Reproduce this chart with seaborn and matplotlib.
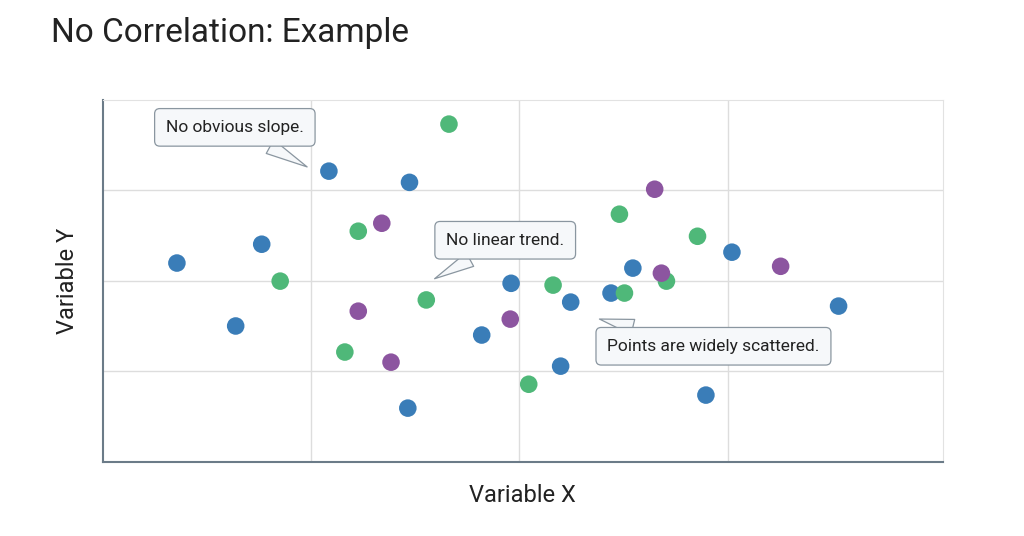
import matplotlib
matplotlib.use("Agg")
import matplotlib.pyplot as plt
import seaborn as sns
import pandas as pd

blue_x = [0.88, 1.58, 1.89, 2.69, 3.65, 3.63, 4.51, 4.86, 5.45, 5.57, 6.05, 6.31, 7.18, 7.49, 8.76]
blue_y = [5.50, 3.76, 6.02, 8.04, 7.73, 1.49, 3.51, 4.94, 2.65, 4.42, 4.67, 5.36, 1.85, 5.80, 4.31]
green_x = [4.12, 3.04, 2.11, 3.85, 2.88, 5.07, 5.36, 6.15, 6.21, 6.71, 7.08]
green_y = [9.34, 6.38, 5.00, 4.48, 3.04, 2.15, 4.89, 6.85, 4.67, 5.00, 6.24]
purple_x = [3.32, 3.04, 3.43, 4.85, 6.57, 6.65, 8.07]
purple_y = [6.60, 4.17, 2.76, 3.95, 7.54, 5.22, 5.41]

df = pd.DataFrame({
    "x": blue_x + green_x + purple_x,
    "y": blue_y + green_y + purple_y,
    "group": ["blue"] * len(blue_x) + ["green"] * len(green_x) + ["purple"] * len(purple_x),
})
palette = {"blue": "#3a7db8", "green": "#4fb879", "purple": "#8c55a0"}

sns.set_style("white")
plt.rcParams["font.family"] = ["Roboto", "DejaVu Sans"]

fig = plt.figure(figsize=(10.24, 5.36), dpi=100)
ax = fig.add_axes([0.1006, 0.138, 0.820, 0.675])
sns.scatterplot(data=df, x="x", y="y", hue="group", palette=palette, s=160,
                edgecolor="none", legend=False, ax=ax, zorder=3)

ax.set_xlim(0, 10)
ax.set_ylim(0, 10)
ax.set_xticks([2.48, 4.96, 7.44])
ax.set_yticks([2.51, 5.0, 7.51])
ax.set_xticklabels([])
ax.set_yticklabels([])
ax.tick_params(length=0)
ax.grid(True, color="#dddddd", linewidth=1)
for s in ["top", "right"]:
    ax.spines[s].set_color("#e2e2e2")
for s in ["left", "bottom"]:
    ax.spines[s].set_color("#6b7b88")
    ax.spines[s].set_linewidth(1.5)

ax.set_xlabel("Variable X", fontsize=17, color="#222222", labelpad=12)
ax.set_ylabel("Variable Y", fontsize=17, color="#222222", labelpad=14)
fig.text(0.05, 0.938, "No Correlation: Example", fontsize=24, color="#222222", va="center")

notes = [
    ("No obvious slope.", (1.57, 9.25), (2.46, 8.12)),
    ("No linear trend.", (4.79, 6.13), (3.92, 5.03)),
    ("Points are widely scattered.", (7.27, 3.20), (5.88, 3.97)),
]
for text, pos, tip in notes:
    ax.annotate(text, xy=tip, xytext=pos, ha="center", va="center", fontsize=12.5,
                color="#222222", zorder=5,
                bbox=dict(boxstyle="round,pad=0.65,rounding_size=0.3", fc="#f6f8fa", ec="#8a96a0", lw=0.9),
                arrowprops=dict(arrowstyle="wedge,tail_width=0.9,shrink_factor=0.5",
                                fc="#f6f8fa", ec="#8a96a0", lw=0.9, shrinkA=0, shrinkB=2))

fig.savefig("out.png", dpi=100)
